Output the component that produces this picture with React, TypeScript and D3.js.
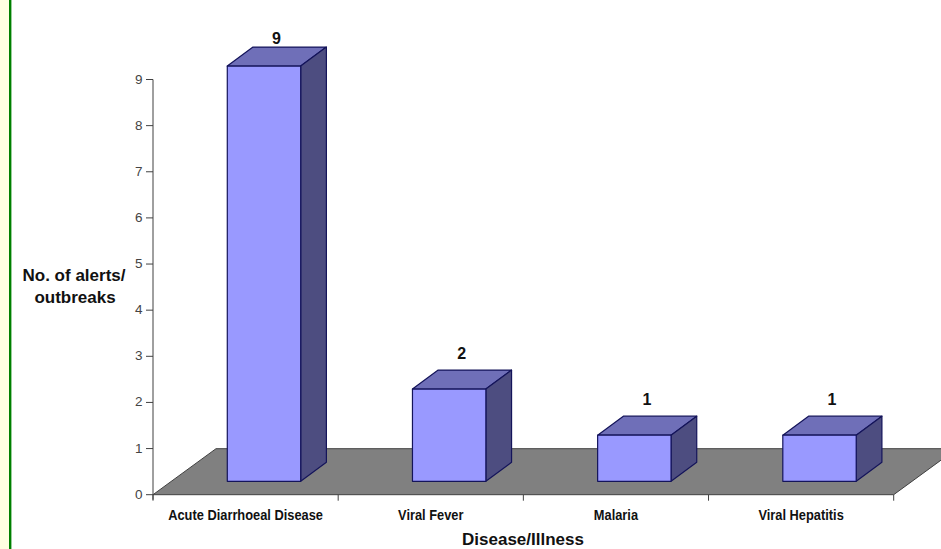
import React from "react";
import * as d3 from "d3";

const categories = ["Acute Diarrhoeal Disease", "Viral Fever", "Malaria", "Viral Hepatitis"];
const counts = [9, 2, 1, 1];
const yTicks = [0, 1, 2, 3, 4, 5, 6, 7, 8, 9];

const width = 941;
const height = 549;
const font = "'Liberation Sans', Arial, sans-serif";

// plot frame, front edge of the floor
const x0 = 153;
const x1 = 893.7;
const y0 = 494.7;
const y9 = 79.5;

// 3d offsets
const floorDx = 63;
const floorDy = -46;
const baseDx = 18.4;
const baseDy = -13.4;
const depthDx = 25.7;
const depthDy = -19;
const barW = 73.4;

export default function App() {
  const xScale = d3.scaleBand<string>().domain(categories).range([x0, x1]);
  const yScale = d3.scaleLinear().domain([0, 9]).range([y0, y9]);
  const poly = d3.line();
  const band = xScale.bandwidth();

  return (
    <svg
      width={width}
      height={height}
      style={{ position: "absolute", left: 0, top: 0, display: "block" }}
      fontFamily={font}
    >
      <rect x={0} y={0} width={width} height={height} fill="#fff" />
      <rect x={0} y={0} width={9} height={height} fill="#ffffe1" />
      <rect x={9} y={0} width={2.4} height={height} fill="#008000" />

      {/* floor */}
      <path
        d={poly([
          [x0, y0],
          [x1, y0],
          [x1 + floorDx, y0 + floorDy],
          [x0 + floorDx, y0 + floorDy],
        ]) + "Z"}
        fill="#808080"
        stroke="#404040"
        strokeWidth={1}
      />

      {/* y axis */}
      <line x1={x0} x2={x0} y1={y9} y2={y0 + 5} stroke="#404040" />
      {yTicks.map((t) => (
        <g key={t}>
          <line x1={x0 - 7} x2={x0} y1={yScale(t)} y2={yScale(t)} stroke="#404040" />
          <text x={142.5} y={yScale(t) + 4} textAnchor="end" fontSize={13.5} fill="#444">
            {t}
          </text>
        </g>
      ))}

      {/* x axis */}
      {d3.range(categories.length + 1).map((i) => (
        <line
          key={i}
          x1={x0 + i * band}
          x2={x0 + i * band}
          y1={y0}
          y2={y0 + 6}
          stroke="#404040"
        />
      ))}
      {categories.map((c) => (
        <text
          key={c}
          transform={`translate(${(xScale(c) ?? 0) + band / 2},520) scale(0.885,1)`}
          textAnchor="middle"
          fontSize={14.5}
          fontWeight="bold"
          fill="#111"
        >
          {c}
        </text>
      ))}

      {/* bars */}
      {categories.map((c, i) => {
        const left = (xScale(c) ?? 0) + (band - barW) / 2 + baseDx;
        const right = left + barW;
        const bottom = y0 + baseDy;
        const top = bottom - (y0 - yScale(counts[i]));
        return (
          <g key={c} stroke="#14145a" strokeWidth={1.2} strokeLinejoin="round">
            <path
              d={poly([
                [left, top],
                [right, top],
                [right + depthDx, top + depthDy],
                [left + depthDx, top + depthDy],
              ]) + "Z"}
              fill="#6f6fb8"
            />
            <path
              d={poly([
                [right, top],
                [right + depthDx, top + depthDy],
                [right + depthDx, bottom + depthDy],
                [right, bottom],
              ]) + "Z"}
              fill="#4d4d80"
            />
            <rect x={left} y={top} width={barW} height={bottom - top} fill="#9999ff" />
            <text
              x={left + barW / 2 + 12.5}
              y={Math.max(top + depthDy - 11, 44)}
              textAnchor="middle"
              fontSize={16}
              fontWeight="bold"
              fill="#111"
              stroke="none"
            >
              {counts[i]}
            </text>
          </g>
        );
      })}

      {/* axis titles */}
      <text x={74} y={280.5} textAnchor="middle" fontSize={17} fontWeight="bold" fill="#111">
        No. of alerts/
      </text>
      <text x={75} y={302.5} textAnchor="middle" fontSize={17} fontWeight="bold" fill="#111">
        outbreaks
      </text>
      <text x={523} y={545} textAnchor="middle" fontSize={17} fontWeight="bold" fill="#111">
        Disease/Illness
      </text>
    </svg>
  );
}
